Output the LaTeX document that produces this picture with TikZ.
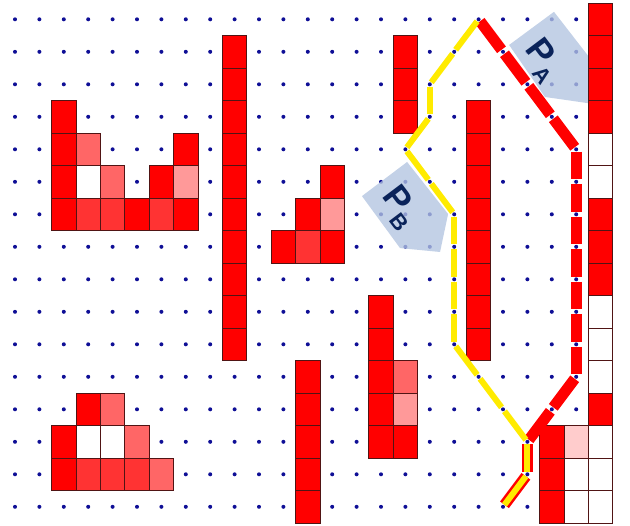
\documentclass[tikz,border=0pt]{standalone}
\usepackage{fontspec}
\setsansfont{Liberation Sans}
\definecolor{dotblue}{RGB}{15,15,150}
\definecolor{cellred}{RGB}{255,0,0}
\definecolor{cellmid}{RGB}{255,51,51}
\definecolor{cellsalmon}{RGB}{255,102,102}
\definecolor{celllight}{RGB}{255,153,153}
\definecolor{cellpale}{RGB}{255,204,204}
\definecolor{cellline}{RGB}{80,20,20}
\definecolor{trailyellow}{RGB}{255,235,0}
\definecolor{tagblue}{RGB}{178,196,224}
\definecolor{tagink}{RGB}{10,35,90}

\begin{document}
\begin{tikzpicture}[
    x=24.4pt, y=-32.5pt,
    dot/.style={fill=dotblue},
    cell/.style={draw=cellline, line width=0.8pt},
    redtrail/.style={draw=cellred, line width=11pt, shorten <=2.5pt, shorten >=2.5pt},
    yellowtrail/.style={draw=trailyellow, line width=6pt, shorten <=2.5pt, shorten >=2.5pt},
    tag/.style={fill=tagblue, fill opacity=0.78},
    tagtext/.style={text=tagink, font=\sffamily\bfseries, rotate=-53, inner sep=0pt}
]

\useasboundingbox (-15pt,19.3pt) rectangle (615pt,-506.7pt);

% dot grid
\foreach \i in {0,...,24}
  \foreach \j in {0,...,15}
    \fill[dot] (\i,\j) circle (2pt);

% label backgrounds
\fill[tag] (22.09,-0.23) -- (23.65,1.28) -- (23.48,2.58) -- (21.72,2.39) -- (20.25,0.79) -- cycle;
\fill[tag] (14.22,5.44) -- (16.07,4.39) -- (17.75,5.99) -- (17.42,7.16) -- (15.78,7.04) -- cycle;

% straight red bars: column/first row/last row
\foreach \i/\a/\b in {9/1/10, 16/1/3, 19/3/10, 12/11/15, 15/9/13, 22/13/15}
  \foreach \j in {\a,...,\b}
    \draw[cell, fill=cellred] (\i-0.5,\j-0.5) rectangle ++(1,1);

% single cells: column/row/colour
\foreach \i/\j/\c in {
    2/3/cellred, 2/4/cellred, 2/5/cellred, 2/6/cellred,
    3/4/cellsalmon, 3/5/white, 3/6/cellmid,
    4/5/cellsalmon, 4/6/cellmid, 5/6/cellred,
    6/5/cellred, 6/6/cellmid,
    7/4/cellred, 7/5/celllight, 7/6/cellred,
    11/7/cellred, 12/6/cellred, 12/7/cellmid,
    13/5/cellred, 13/6/celllight, 13/7/cellred,
    16/11/cellsalmon, 16/12/celllight, 16/13/cellred,
    3/12/cellred, 4/12/cellsalmon,
    2/13/cellred, 3/13/white, 4/13/white, 5/13/cellsalmon,
    2/14/cellred, 3/14/cellmid, 4/14/cellmid, 5/14/cellmid, 6/14/cellsalmon,
    23/13/cellpale, 23/14/white, 23/15/white}
  \draw[cell, fill=\c] (\i-0.5,\j-0.5) rectangle ++(1,1);

% right column
\foreach \j/\c in {0/cellred, 1/cellred, 2/cellred, 3/cellred, 4/white, 5/white,
    6/cellred, 7/cellred, 8/cellred, 9/white, 10/white, 11/white,
    12/cellred, 13/white, 14/white, 15/white}
  \draw[cell, fill=\c] (24-0.5,\j-0.5) rectangle ++(1,1);

% path A
\foreach \xa/\ya/\xb/\yb in {19/0/20/1, 20/1/21/2, 21/2/22/3, 22/3/23/4,
    23/4/23/5, 23/5/23/6, 23/6/23/7, 23/7/23/8, 23/8/23/9, 23/9/23/10, 23/10/23/11,
    23/11/22/12, 22/12/21/13, 21/13/21/14, 21/14/20/15}
  \draw[redtrail] (\xa,\ya) -- (\xb,\yb);

% path B
\foreach \xa/\ya/\xb/\yb in {19/0/18/1, 18/1/17/2, 17/2/17/3, 17/3/16/4,
    16/4/17/5, 17/5/18/6, 18/6/18/7, 18/7/18/8, 18/8/18/9, 18/9/18/10,
    18/10/19/11, 19/11/20/12, 20/12/21/13, 21/13/21/14, 21/14/20/15}
  \draw[yellowtrail] (\xa,\ya) -- (\xb,\yb);

\node[tagtext] (pa) at (21.62,1.27) {\fontsize{35}{35}\selectfont P\fontsize{22}{22}\selectfont\raisebox{-9pt}{A}};
\node[tagtext] (pb) at (15.74,5.79) {\fontsize{35}{35}\selectfont P\fontsize{22}{22}\selectfont\raisebox{-9pt}{B}};

\end{tikzpicture}
\end{document}
